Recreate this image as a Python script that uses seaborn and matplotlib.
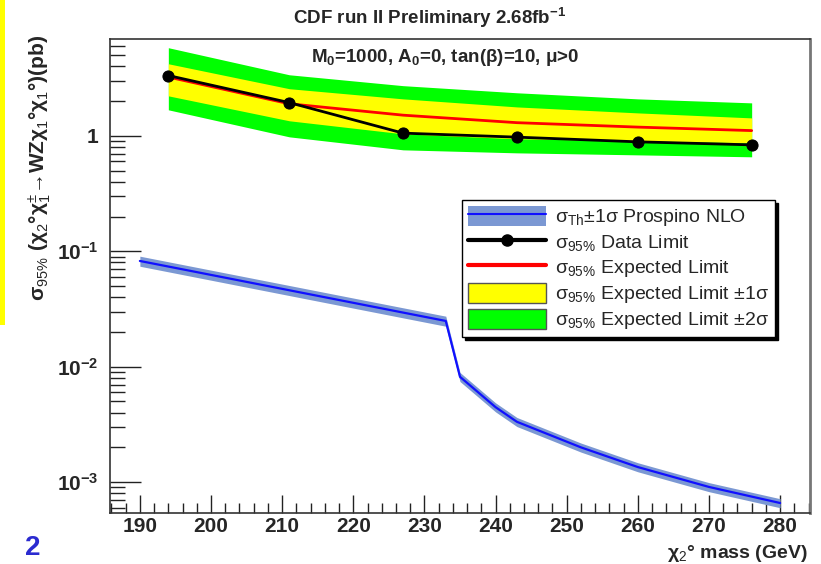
import numpy as np
import pandas as pd
import matplotlib
matplotlib.use("Agg")
import matplotlib.pyplot as plt
import seaborn as sns
from matplotlib.patches import Patch, Rectangle
from matplotlib.lines import Line2D
from matplotlib.ticker import FixedLocator, NullFormatter

# ---------------- data ----------------
limit_mass = [194, 211, 227, 243, 260, 276]
obs_limit = [3.33, 1.94, 1.055, 0.974, 0.887, 0.835]
exp_limit = [3.23, 1.895, 1.51, 1.30, 1.19, 1.11]
exp_1s_lo = [2.22, 1.35, 1.04, 0.942, 0.905, 0.870]
exp_1s_hi = [4.21, 2.56, 2.09, 1.78, 1.58, 1.43]
exp_2s_lo = [1.68, 0.980, 0.756, 0.712, 0.684, 0.658]
exp_2s_hi = [5.80, 3.38, 2.72, 2.36, 2.09, 1.93]

th_mass = [190, 233, 235, 240, 243, 252, 260, 270, 280]
th_xsec = [0.0824, 0.0249, 0.00817, 0.00446, 0.00333, 0.00200, 0.00135, 0.000908, 0.000659]
th_rel_err = [0.10, 0.10, 0.09, 0.09, 0.09, 0.09, 0.09, 0.09, 0.09]

x_ticks = [190, 200, 210, 220, 230, 240, 250, 260, 270, 280]
y_ticks = [1e-3, 1e-2, 1e-1, 1]
y_tick_labels = [r'$\mathbf{10^{-3}}$', r'$\mathbf{10^{-2}}$', r'$\mathbf{10^{-1}}$', r'$\mathbf{1}$']

df_lim = pd.DataFrame({"mass": limit_mass, "obs": obs_limit, "exp": exp_limit})
df_th = pd.DataFrame({"mass": th_mass, "xsec": th_xsec})

# ---------------- style ----------------
sns.set_theme(style="ticks")
plt.rcParams['font.family'] = ['Liberation Sans', 'DejaVu Sans']
plt.rcParams['mathtext.fontset'] = 'custom'
plt.rcParams['mathtext.rm'] = 'Liberation Sans'
plt.rcParams['mathtext.it'] = 'Liberation Sans:italic'
plt.rcParams['mathtext.bf'] = 'Liberation Sans:bold'

fig = plt.figure(figsize=(8.21, 5.64), dpi=100)
fig.patch.set_facecolor('white')
ax = fig.add_axes([110/821, 51/564, 700/821, 474/564])

GREEN = '#00ff00'
YELLOW = '#ffff00'
BAND = '#7b98d3'

ax.fill_between(limit_mass, exp_2s_lo, exp_2s_hi, color=GREEN, lw=0, zorder=1)
ax.fill_between(limit_mass, exp_1s_lo, exp_1s_hi, color=YELLOW, lw=0, zorder=2)

th = np.array(th_xsec)
err = np.array(th_rel_err)
ax.fill_between(th_mass, th * (1 - err), th * (1 + err), color=BAND, lw=0, zorder=2)
sns.lineplot(data=df_th, x="mass", y="xsec", ax=ax, color='#1010ff', lw=1.6, zorder=3)
sns.lineplot(data=df_lim, x="mass", y="exp", ax=ax, color='#ff0000', lw=2.0, zorder=4)
sns.lineplot(data=df_lim, x="mass", y="obs", ax=ax, color='black', lw=2.0,
             marker='o', markersize=8, markeredgecolor='black', zorder=5)

ax.set_yscale('log')
ax.set_xlim(185.8, 284.2)
ax.set_ylim(5.4e-4, 6.9)
ax.set_xlabel('')
ax.set_ylabel('')

# ticks
ax.xaxis.set_major_locator(FixedLocator(x_ticks))
ax.xaxis.set_minor_locator(FixedLocator(np.arange(186, 285, 2)))
ax.set_xticklabels([str(t) for t in x_ticks], fontsize=15, fontweight='bold')
ax.yaxis.set_major_locator(FixedLocator(y_ticks))
minors = [m * 10.0**e for e in range(-4, 1) for m in range(2, 10)]
ax.yaxis.set_minor_locator(FixedLocator(minors))
ax.yaxis.set_minor_formatter(NullFormatter())
ax.set_yticklabels(y_tick_labels, fontsize=15)
ax.tick_params(axis='x', which='major', direction='in', length=13, width=1, pad=3, color='#222222')
ax.tick_params(axis='x', which='minor', direction='in', length=7, width=1, color='#222222')
ax.tick_params(axis='y', which='major', direction='in', length=22, width=1, pad=8, color='#222222')
ax.tick_params(axis='y', which='minor', direction='in', length=11, width=1, color='#222222')
ax.tick_params(top=False, right=False, which='both')
for s in ax.spines.values():
    s.set_visible(True)
    s.set_linewidth(1.2)
    s.set_color('#333333')
ax.spines['right'].set_color('#777777')
ax.spines['right'].set_linewidth(2)

# texts
fig.text(430/821, 1 - 18/564, r'CDF run II Preliminary 2.68fb$^{\mathbf{-1}}$', ha='center', va='center',
         fontsize=13.5, fontweight='bold')
fig.text(445/821, 1 - 57/564, r'M$_{\mathbf{0}}$=1000, A$_{\mathbf{0}}$=0, tan(β)=10, μ>0', ha='center', va='center',
         fontsize=13.5, fontweight='bold')
fig.text(808/821, 1 - 554/564, 'χ$_2$° mass (GeV)', ha='right', va='center', fontsize=14, fontweight='bold')
fig.text(40/821, 1 - 168/564, r'σ$_{95\%}$ (χ$_2$°χ$_1^{\pm}$→WZχ$_1$°χ$_1$°)(pb)', rotation=90,
         ha='center', va='center', fontsize=15, fontweight='bold')

# slide artifacts
fig.patches.append(Rectangle((0, 1 - 325/564), 5/821, 325/564, transform=fig.transFigure,
                             facecolor='#ffff00', edgecolor='none'))
fig.text(33/821, 1 - 548/564, '2', color='#2b2bd0', fontsize=20, fontweight='bold', ha='center', va='center')

# legend
h_th = (Patch(facecolor=BAND, edgecolor='none'), Line2D([], [], color='#1010ff', lw=1.5))
h_obs = Line2D([], [], color='black', lw=3, marker='o', markersize=8)
h_exp = Line2D([], [], color='#ff0000', lw=3)
h_y = Patch(facecolor=YELLOW, edgecolor='#555555')
h_g = Patch(facecolor=GREEN, edgecolor='#555555')
labels = [r'σ$_{\rm Th}$±1σ Prospino NLO', r'σ$_{95\%}$ Data Limit', r'σ$_{95\%}$ Expected Limit',
          r'σ$_{95\%}$ Expected Limit ±1σ', r'σ$_{95\%}$ Expected Limit ±2σ']
leg = ax.legend([h_th, h_obs, h_exp, h_y, h_g], labels,
                loc='upper left', bbox_to_anchor=((462-110)/700, (513-200)/474),
                bbox_transform=ax.transAxes, fontsize=14, frameon=True, fancybox=False,
                edgecolor='black', framealpha=1, borderpad=0.3, labelspacing=0.18,
                handlelength=4.0, handleheight=1.2, handletextpad=0.5, borderaxespad=0,
                shadow={'color': 'black', 'alpha': 1})
leg.get_frame().set_linewidth(1.0)

fig.savefig('out.png', dpi=100)
